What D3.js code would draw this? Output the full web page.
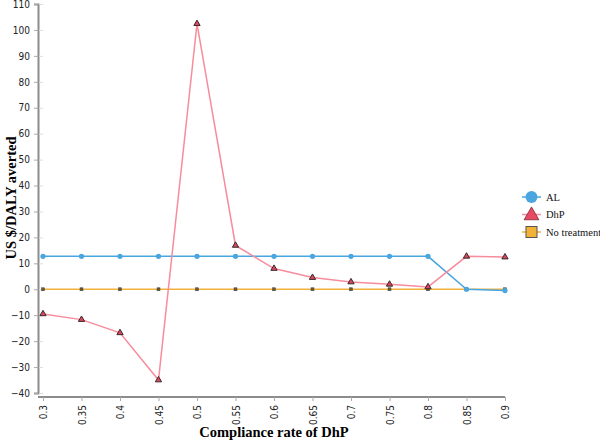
<!DOCTYPE html>
<html>
<head>
<meta charset="utf-8">
<script src="https://cdn.jsdelivr.net/npm/d3@7"></script>
<style>
  body { margin: 0; background: #fff; }
  .tick text { font-family: "Liberation Sans Narrow", "DejaVu Sans Condensed", sans-serif; font-size: 10px; fill: #222; }
</style>
</head>
<body>
<svg id="chart" width="600" height="442"></svg>
<script>
// data
var compliance = [0.3, 0.35, 0.4, 0.45, 0.5, 0.55, 0.6, 0.65, 0.7, 0.75, 0.8, 0.85, 0.9];
var alValues = [12.7, 12.7, 12.7, 12.7, 12.7, 12.7, 12.7, 12.7, 12.7, 12.7, 12.7, 0, -0.5];
var dhpValues = [-9.5, -11.7, -16.8, -35, 102.4, 16.9, 8, 4.5, 2.8, 1.9, 0.9, 12.7, 12.4];
var noTreatValues = [0, 0, 0, 0, 0, 0, 0, 0, 0, 0, 0, 0, 0];
var yTicks = [-40, -30, -20, -10, 0, 10, 20, 30, 40, 50, 60, 70, 80, 90, 100, 110];
var seriesNames = ["AL", "DhP", "No treatment"];

var svg = d3.select("#chart");

var x = d3.scaleLinear().domain([0.3, 0.9]).range([43, 505]);
var y = d3.scaleLinear().domain([-40, 110]).range([393, 4]);

var axisCol = "#8c8c8c";

// y axis
var yAxis = svg.append("g")
  .attr("transform", "translate(38,0)")
  .call(d3.axisLeft(y).tickValues(yTicks).tickSize(4).tickPadding(4));
yAxis.select(".domain").attr("stroke", axisCol).attr("stroke-width", 2);
yAxis.selectAll(".tick line").attr("stroke", "#aaa");
// faint ticks on the inner side
yAxis.selectAll(".tick").append("line")
  .attr("x1", 1).attr("x2", 5).attr("stroke", "#ddd");

// x axis
var xAxis = svg.append("g")
  .attr("transform", "translate(0,397)")
  .call(d3.axisBottom(x).tickValues(compliance).tickSize(4).tickFormat(function (d) { return String(+d.toFixed(2)); }));
xAxis.select(".domain").attr("d", "M38,0H505").attr("stroke", axisCol).attr("stroke-width", 2);
xAxis.selectAll(".tick line").attr("stroke", "#aaa");
xAxis.selectAll(".tick text")
  .attr("transform", "rotate(-90)")
  .attr("text-anchor", "end")
  .attr("x", -8)
  .attr("y", 0)
  .attr("dy", "0.35em");

// axis titles
svg.append("text")
  .attr("transform", "translate(16,198) rotate(-90)")
  .attr("text-anchor", "middle")
  .style("font-family", "'Liberation Serif', 'Times New Roman', serif")
  .style("font-weight", "bold")
  .style("font-size", "14.5px")
  .text("US $/DALY averted");

svg.append("text")
  .attr("x", 274)
  .attr("y", 437)
  .attr("text-anchor", "middle")
  .style("font-family", "'Liberation Serif', 'Times New Roman', serif")
  .style("font-weight", "bold")
  .style("font-size", "14.5px")
  .text("Compliance rate of DhP");

var line = d3.line()
  .x(function (d) { return x(d[0]); })
  .y(function (d) { return y(d[1]); });

function pairs(vals) {
  return compliance.map(function (c, i) { return [c, vals[i]]; });
}

var colAL = "#4aa6de";
var colDhP = "#f78c9c";
var colNo = "#f2b23a";

// lines
svg.append("path").datum(pairs(noTreatValues))
  .attr("fill", "none").attr("stroke", colNo).attr("stroke-width", 1.5).attr("d", line);
svg.append("path").datum(pairs(alValues))
  .attr("fill", "none").attr("stroke", colAL).attr("stroke-width", 1.5).attr("d", line);
svg.append("path").datum(pairs(dhpValues))
  .attr("fill", "none").attr("stroke", colDhP).attr("stroke-width", 1.5).attr("d", line);

// markers
svg.selectAll(".mNo").data(pairs(noTreatValues)).enter().append("rect")
  .attr("x", function (d) { return x(d[0]) - 1.5; })
  .attr("y", function (d) { return y(d[1]) - 1.5; })
  .attr("width", 3).attr("height", 3)
  .attr("fill", "#6b5a30").attr("stroke", "#444").attr("stroke-width", 0.5);

svg.selectAll(".mAL").data(pairs(alValues)).enter().append("circle")
  .attr("cx", function (d) { return x(d[0]); })
  .attr("cy", function (d) { return y(d[1]); })
  .attr("r", 2.6)
  .attr("fill", colAL);

var tri = d3.symbol().type(d3.symbolTriangle).size(17);
svg.selectAll(".mDhP").data(pairs(dhpValues)).enter().append("path")
  .attr("transform", function (d) { return "translate(" + x(d[0]) + "," + y(d[1]) + ")"; })
  .attr("d", tri)
  .attr("fill", "#d9475e").attr("stroke", "#3a2a2a").attr("stroke-width", 1);

// legend
var legend = svg.append("g").attr("transform", "translate(522,197)");
var legColors = [colAL, colDhP, colNo];
seriesNames.forEach(function (name, i) {
  var g = legend.append("g").attr("transform", "translate(0," + (i * 17.5) + ")");
  g.append("line").attr("x1", 0).attr("x2", 19).attr("stroke", legColors[i]).attr("stroke-width", 1.5);
  if (i === 0) {
    g.append("circle").attr("cx", 9.5).attr("r", 6).attr("fill", colAL);
  } else if (i === 1) {
    g.append("path").attr("transform", "translate(9.5,1)")
      .attr("d", d3.symbol().type(d3.symbolTriangle).size(95))
      .attr("fill", "#e84a63").attr("stroke", "#7a2a35").attr("stroke-width", 0.8);
  } else {
    g.append("rect").attr("x", 4).attr("y", -5.5).attr("width", 11).attr("height", 11)
      .attr("fill", colNo).attr("stroke", "#555").attr("stroke-width", 1);
  }
  g.append("text")
    .attr("x", 24).attr("y", 0).attr("dy", "0.35em")
    .style("font-family", "'Liberation Serif', 'Times New Roman', serif")
    .style("font-size", "10.5px")
    .style("fill", "#111")
    .text(name);
});
</script>
</body>
</html>
